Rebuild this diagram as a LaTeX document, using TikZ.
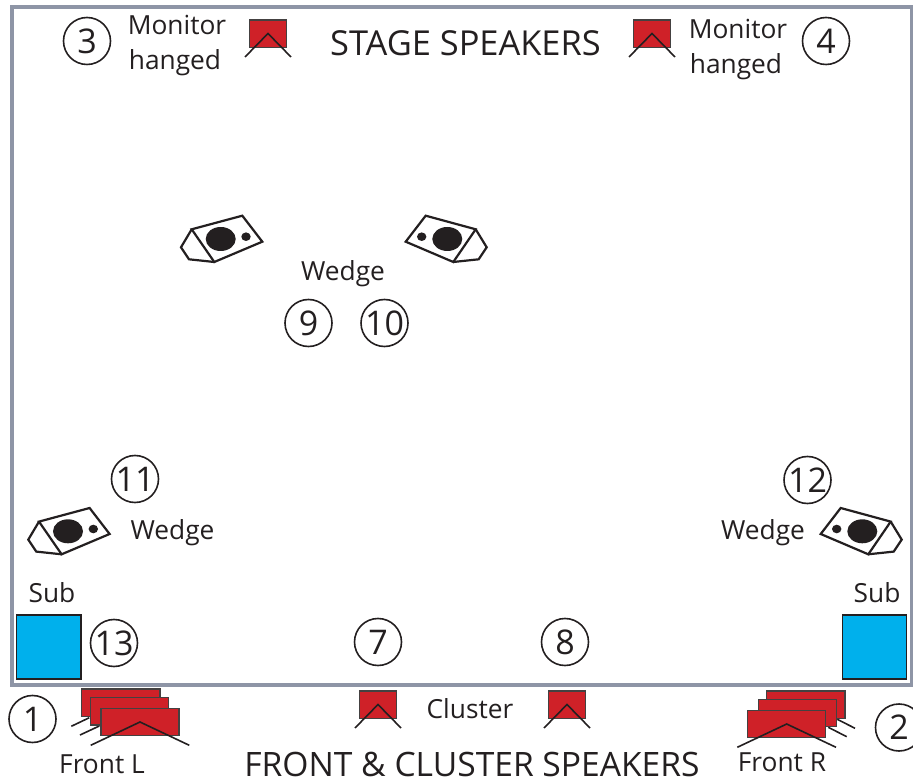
\documentclass[tikz,border=0pt]{standalone}
\usepackage{fontspec}
\setmainfont{Open Sans}
\definecolor{framegrey}{HTML}{8E95A6}
\definecolor{ink}{HTML}{231F20}
\definecolor{spkred}{HTML}{CF2128}
\definecolor{subblue}{HTML}{00B0EC}
\tikzset{
  x=1pt,y=-1pt,
  numcirc/.style={circle,draw=ink,line width=1.6pt,minimum size=47pt,inner sep=0pt,text=ink,font=\fontsize{34}{34}\selectfont},
  lbl/.style={anchor=base,inner sep=0pt,text=ink,font=\fontsize{26.3}{26.3}\selectfont},
  biglbl/.style={anchor=base,inner sep=0pt,text=ink,font=\fontsize{34.4}{34.4}\selectfont},
  biglblb/.style={anchor=base,inner sep=0pt,text=ink,font=\fontsize{33.6}{33.6}\selectfont},
  redbox/.style={fill=spkred,draw=ink!85,line width=1.5pt},
  subbox/.style={fill=subblue,draw=ink,line width=1.5pt},
  wire/.style={draw=ink,line width=1.6pt},
  body/.style={draw=ink,line width=2.2pt,line join=miter,fill=white},
  cone/.style={fill=ink,draw=none},
  pics/wedgeL/.style={code={
    \draw[body] (0,0)--(50.6,-13.6)--(70.6,12.4)--(22.6,32.7)--cycle;
    \draw[body,fill=none] (0,0)--(-10.7,18)--(-2.7,30)--(22.6,32.7);
    \fill[cone] (29,9.7) ellipse [x radius=15,y radius=12];
    \fill[cone] (54.3,7.4) ellipse [x radius=4.7,y radius=4.3];
  }},
  pics/wedgeR/.style={code={
    \draw[body] (0,0)--(-50,-13.6)--(-70,12.4)--(-22.4,32.7)--cycle;
    \draw[body,fill=none] (0,0)--(11,18)--(3,30)--(-22.4,32.7);
    \fill[cone] (-28.4,9.7) ellipse [x radius=15,y radius=12];
    \fill[cone] (-54,7.4) ellipse [x radius=4.7,y radius=4.3];
  }},
  pics/monitor/.style={code={
    \draw[redbox] (-18.7,-13.5) rectangle (18.7,14);
    \draw[wire] (-23,23.5)--(0,0)--(23,23.5);
  }},
}
\begin{document}
\begin{tikzpicture}
\useasboundingbox (0,0) rectangle (913,783);
\draw[draw=framegrey,line width=4pt] (11.5,7) rectangle (912,684.5);

% stage monitors
\pic at (268,33.5) {monitor};
\pic at (652,33.5) {monitor};
% cluster
\pic at (378,704.5) {monitor};
\pic at (567,704.5) {monitor};

% wedges
\pic at (191.7,229.3) {wedgeL};
\pic at (39,521.6) {wedgeL};
\pic at (475.7,229.3) {wedgeR};
\pic at (890.7,521.6) {wedgeR};

% subs
\draw[subbox] (16.7,615) rectangle (81,679);
\draw[subbox] (842.7,615) rectangle (906.7,679);

% front L
\draw[wire] (71.3,726.3)--(89.3,717.7);
\draw[wire] (80,735)--(99.3,726);
\draw[redbox] (81.7,689) rectangle (160,716.7);
\draw[redbox] (90.7,697.7) rectangle (168.3,725);
\draw[redbox] (101,708.3) rectangle (179,735.7);
\draw[wire] (90.7,745.3)--(140,722)--(189.3,745.3);

% front R
\draw[wire] (837.3,719.3)--(855,728.3);
\draw[wire] (828.3,727.3)--(846.7,736.7);
\draw[redbox] (766.7,691) rectangle (845,718.3);
\draw[redbox] (758.3,699.3) rectangle (836.7,726.7);
\draw[redbox] (747.7,710.7) rectangle (825.7,737.7);
\draw[wire] (737.3,747.3)--(786.7,724)--(836,747.3);

% numbers
\node[numcirc] (n3) at (87,41) {3};
\node[numcirc] (n4) at (826,41) {4};
\node[numcirc] (n9) at (308.5,323) {9};
\node[numcirc] (n10) at (384.5,323) {10};
\node[numcirc] (n11) at (135,479) {11};
\node[numcirc] (n12) at (807.5,480) {12};
\node[numcirc] (n13) at (114,643) {13};
\node[numcirc] (n7) at (378,642) {7};
\node[numcirc] (n8) at (565,642) {8};
\node[numcirc] (n1) at (32.5,719) {1};
\node[numcirc] (n2) at (899,727.5) {2};

% labels
\node[biglbl] (stage) at (465.5,56) {STAGE SPEAKERS};
\node[biglblb] (front) at (472,776.5) {FRONT \& CLUSTER SPEAKERS};
\node[lbl] (mon3) at (177,35) {Monitor};
\node[lbl] (hang3) at (175,70) {hanged};
\node[lbl] (mon4) at (738,39) {Monitor};
\node[lbl] (hang4) at (736,74) {hanged};
\node[lbl] (w1) at (343,281) {Wedge};
\node[lbl] (w2) at (172.5,539) {Wedge};
\node[lbl] (w3) at (763,539) {Wedge};
\node[lbl] (s1) at (52,602) {Sub};
\node[lbl] (s2) at (877,602) {Sub};
\node[lbl] (cl) at (470,718) {Cluster};
\node[lbl] (fl) at (102,773) {Front L};
\node[lbl] (fr) at (782,771) {Front R};
\end{tikzpicture}
\end{document}
